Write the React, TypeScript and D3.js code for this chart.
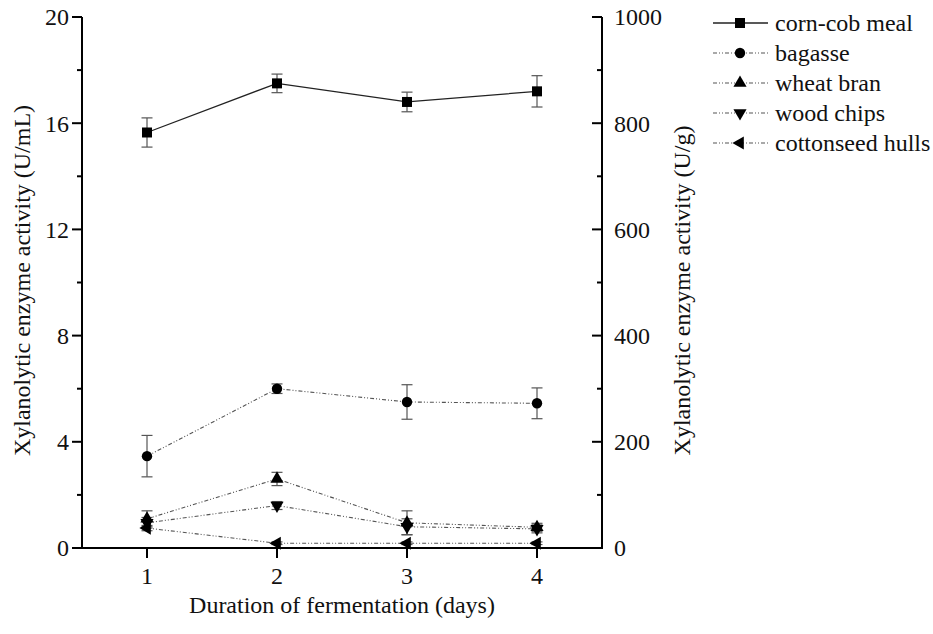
import React from "react";
import * as d3 from "d3";

const days = [1, 2, 3, 4];
const seriesNames = ["corn-cob meal", "bagasse", "wheat bran", "wood chips", "cottonseed hulls"];
const cornCob = [15.65, 17.5, 16.8, 17.2];
const cornCobErr = [0.55, 0.35, 0.37, 0.59];
const bagasse = [3.46, 6.0, 5.5, 5.45];
const bagasseErr = [0.78, 0.18, 0.65, 0.58];
const wheatBran = [1.1, 2.6, 0.95, 0.78];
const wheatBranErr = [0.3, 0.25, 0.45, 0.15];
const woodChips = [0.95, 1.6, 0.8, 0.72];
const woodChipsErr = [0.2, 0.15, 0.3, 0.15];
const cottonseed = [0.75, 0.18, 0.18, 0.18];
const cottonseedErr = [0.1, 0.05, 0.05, 0.05];
const leftTicks = [0, 4, 8, 12, 16, 20];
const rightTicks = [0, 200, 400, 600, 800, 1000];

const FONT = "Liberation Serif, Times New Roman, serif";

const margin = { left: 82, right: 331, top: 17, bottom: 86 };
const W = 933;
const H = 634;
const DASH = "4,2,1,2,1,2";

const series = [
  { name: seriesNames[0], values: cornCob, err: cornCobErr, symbol: d3.symbolSquare, size: 100, rot: 0, dash: null },
  { name: seriesNames[1], values: bagasse, err: bagasseErr, symbol: d3.symbolCircle, size: 85, rot: 0, dash: DASH },
  { name: seriesNames[2], values: wheatBran, err: wheatBranErr, symbol: d3.symbolTriangle, size: 75, rot: 0, dash: DASH },
  { name: seriesNames[3], values: woodChips, err: woodChipsErr, symbol: d3.symbolTriangle, size: 75, rot: 180, dash: DASH },
  { name: seriesNames[4], values: cottonseed, err: cottonseedErr, symbol: d3.symbolTriangle, size: 75, rot: -90, dash: DASH },
];

export default function App() {
  const x = d3.scaleLinear().domain([0.5, 4.5]).range([margin.left, W - margin.right]);
  const y = d3.scaleLinear().domain([0, 20]).range([H - margin.bottom, margin.top]);
  const y2 = d3.scaleLinear().domain([0, 1000]).range([H - margin.bottom, margin.top]);
  const line = d3.line<number>().x((_, i) => x(days[i])).y(d => y(d));
  const x0 = x.range()[0], x1 = x.range()[1];
  const yb = y.range()[0], yt = y.range()[1];
  const leftMinor = d3.range(2, 20, 4);
  const rightMinor = d3.range(100, 1000, 200);

  return (
    <svg width={W} height={H} style={{ position: "absolute", left: 0, top: 0, background: "#fff", fontFamily: FONT }}>
      {/* lines */}
      {series.map(s => (
        <path key={s.name} d={line(s.values) || ""} fill="none"
          stroke={s.dash ? "#555" : "#222"} strokeWidth={s.dash ? 1.1 : 1.3}
          strokeDasharray={s.dash || undefined} />
      ))}
      {/* error bars */}
      {series.map(s => s.values.map((v, i) => {
        const cx = x(days[i]);
        const top = y(v + s.err[i]), bot = y(v - s.err[i]);
        return (
          <g key={s.name + i} stroke="#555" strokeWidth={1.2}>
            <line x1={cx} x2={cx} y1={top} y2={bot} />
            <line x1={cx - 5.5} x2={cx + 5.5} y1={top} y2={top} />
            <line x1={cx - 5.5} x2={cx + 5.5} y1={bot} y2={bot} />
          </g>
        );
      }))}
      {/* markers */}
      {series.map(s => s.values.map((v, i) => (
        <path key={s.name + "m" + i}
          d={d3.symbol().type(s.symbol).size(s.size)() || ""}
          transform={`translate(${x(days[i])},${y(v)}) rotate(${s.rot})`}
          fill="#000" />
      )))}

      {/* axes */}
      <g stroke="#000" strokeWidth={2} fill="none">
        <line x1={x0} x2={x0} y1={yt} y2={yb + 1} />
        <line x1={x1} x2={x1} y1={yt} y2={yb + 1} />
        <line x1={x0 - 1} x2={x1 + 1} y1={yb} y2={yb} />
        {leftTicks.map(t => <line key={"lt" + t} x1={x0 - 10} x2={x0} y1={y(t)} y2={y(t)} />)}
        {leftMinor.map(t => <line key={"lm" + t} x1={x0 - 5} x2={x0} y1={y(t)} y2={y(t)} />)}
        {rightTicks.map(t => <line key={"rt" + t} x1={x1 - 10} x2={x1} y1={y2(t)} y2={y2(t)} />)}
        {rightMinor.map(t => <line key={"rm" + t} x1={x1 - 5} x2={x1} y1={y2(t)} y2={y2(t)} />)}
        {days.map(d => <line key={"bt" + d} x1={x(d)} x2={x(d)} y1={yb} y2={yb + 10} />)}
      </g>
      <g fontSize={24} fill="#111">
        {leftTicks.map(t => (
          <text key={"ll" + t} x={x0 - 13} y={y(t)} dy="0.35em" textAnchor="end">{t}</text>
        ))}
        {rightTicks.map(t => (
          <text key={"rl" + t} x={x1 + 12} y={y2(t)} dy="0.35em" textAnchor="start">{t}</text>
        ))}
        {days.map(d => (
          <text key={"bl" + d} x={x(d)} y={yb + 36} textAnchor="middle">{d}</text>
        ))}
        <text x={(x0 + x1) / 2} y={613} textAnchor="middle">Duration of fermentation (days)</text>
        <text transform={`translate(30,${(yt + yb) / 2 - 2}) rotate(-90)`} textAnchor="middle">Xylanolytic enzyme activity (U/mL)</text>
        <text transform={`translate(690,${(yt + yb) / 2 + 8}) rotate(-90)`} textAnchor="middle">Xylanolytic enzyme activity (U/g)</text>
      </g>

      {/* legend */}
      <g>
        {series.map((s, i) => {
          const ly = 23 + i * 30;
          return (
            <g key={"lg" + s.name}>
              <line x1={713} x2={768} y1={ly} y2={ly} stroke={s.dash ? "#555" : "#222"}
                strokeWidth={s.dash ? 1.1 : 1.3} strokeDasharray={s.dash || undefined} />
              <path d={d3.symbol().type(s.symbol).size(s.size)() || ""}
                transform={`translate(740,${ly}) rotate(${s.rot})`} fill="#000" />
              <text x={775} y={ly} dy="0.33em" fontSize={24} fill="#111">{s.name}</text>
            </g>
          );
        })}
      </g>
    </svg>
  );
}
